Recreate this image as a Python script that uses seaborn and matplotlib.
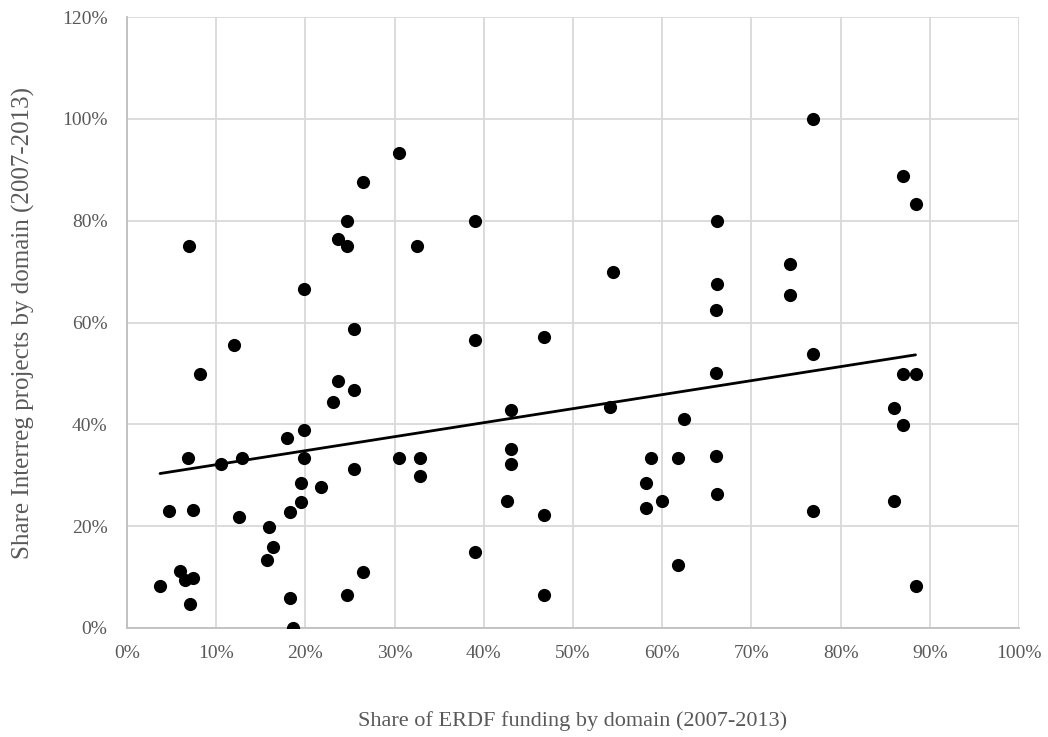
import numpy as np
import pandas as pd
import seaborn as sns
import matplotlib.pyplot as plt
from matplotlib.ticker import PercentFormatter

# Share of ERDF funding by domain (x) vs share of Interreg projects (y), in %
erdf_share = [3.7, 4.7, 5.9, 6.5, 6.9, 6.8, 7.4, 7.4, 7.1, 8.2,
              10.5, 12.0, 12.5, 12.9, 15.7, 15.9, 16.4, 17.9, 18.3, 18.3,
              18.6, 19.5, 19.5, 19.8, 19.8, 19.8, 21.7, 23.1, 23.7, 23.7,
              24.7, 24.7, 24.7, 25.4, 25.4, 25.5, 26.5, 26.5, 30.5, 30.5,
              32.5, 32.9, 32.9, 39.0, 39.0, 39.0, 42.6, 43.1, 43.1, 43.1,
              46.7, 46.7, 46.7, 54.1, 54.5, 58.2, 58.2, 58.7, 60.0, 61.8,
              61.8, 62.4, 66.0, 66.2, 66.2, 66.0, 66.0, 66.2, 74.3, 74.3,
              76.9, 76.9, 76.9, 86.0, 86.0, 87.0, 87.0, 87.0, 88.4, 88.4,
              88.4]
interreg_share = [8.2, 22.9, 11.2, 9.4, 75.0, 33.3, 9.9, 23.1, 4.8, 49.9,
                  32.2, 55.6, 21.8, 33.3, 13.3, 19.9, 15.9, 37.4, 22.7, 5.8,
                  0.0, 28.4, 24.8, 38.9, 33.3, 66.6, 27.7, 44.4, 48.5, 76.5,
                  80.0, 75.0, 6.5, 46.8, 31.2, 58.8, 87.5, 11.0, 93.3, 33.3,
                  75.0, 33.3, 29.9, 80.0, 56.5, 14.9, 24.9, 42.9, 35.2, 32.2,
                  57.1, 22.2, 6.5, 43.4, 70.0, 28.4, 23.5, 33.3, 24.9, 33.3,
                  12.4, 41.1, 62.4, 67.6, 80.0, 50.0, 33.8, 26.4, 71.4, 65.5,
                  100.0, 53.9, 22.9, 43.3, 24.9, 88.8, 49.9, 39.9, 83.3, 49.9,
                  8.2]

df = pd.DataFrame({'erdf': np.array(erdf_share) / 100,
                   'interreg': np.array(interreg_share) / 100})

sns.set_style('white')
plt.rcParams['font.family'] = ['Liberation Serif', 'DejaVu Serif']

fig, ax = plt.subplots(figsize=(10.48, 7.37), dpi=100)
fig.subplots_adjust(left=0.1212, right=0.9723, top=0.9769, bottom=0.1479)

# points and linear trend line
sns.scatterplot(data=df, x='erdf', y='interreg', color='black', s=90,
                edgecolor='black', linewidth=0, ax=ax, zorder=3)
sns.regplot(data=df, x='erdf', y='interreg', scatter=False, ci=None,
            color='black', line_kws={'linewidth': 2}, ax=ax)

ax.set_xlim(0, 1)
ax.set_ylim(0, 1.2)
ax.set_xticks(np.arange(0, 1.01, 0.1))
ax.set_yticks(np.arange(0, 1.21, 0.2))
ax.xaxis.set_major_formatter(PercentFormatter(1.0, decimals=0))
ax.yaxis.set_major_formatter(PercentFormatter(1.0, decimals=0))

ax.grid(True, color='#d9d9d9', linewidth=1.3)
ax.set_axisbelow(True)
for side in ['top', 'right']:
    ax.spines[side].set_visible(False)
for side in ['left', 'bottom']:
    ax.spines[side].set_color('#bfbfbf')
    ax.spines[side].set_linewidth(1.3)

ax.tick_params(axis='both', labelsize=14, colors='#595959', length=0)
ax.tick_params(axis='x', pad=12)
ax.tick_params(axis='y', pad=14)
ax.set_xlabel('Share of ERDF funding by domain (2007-2013)', fontsize=16,
              color='#595959', va='center')
ax.set_ylabel('Share Interreg projects by domain (2007-2013)', fontsize=18,
              color='#595959', va='center')
ax.xaxis.set_label_coords(0.5, -0.153)
ax.yaxis.set_label_coords(-0.1166, 0.5)

plt.savefig('out.png', dpi=100)
